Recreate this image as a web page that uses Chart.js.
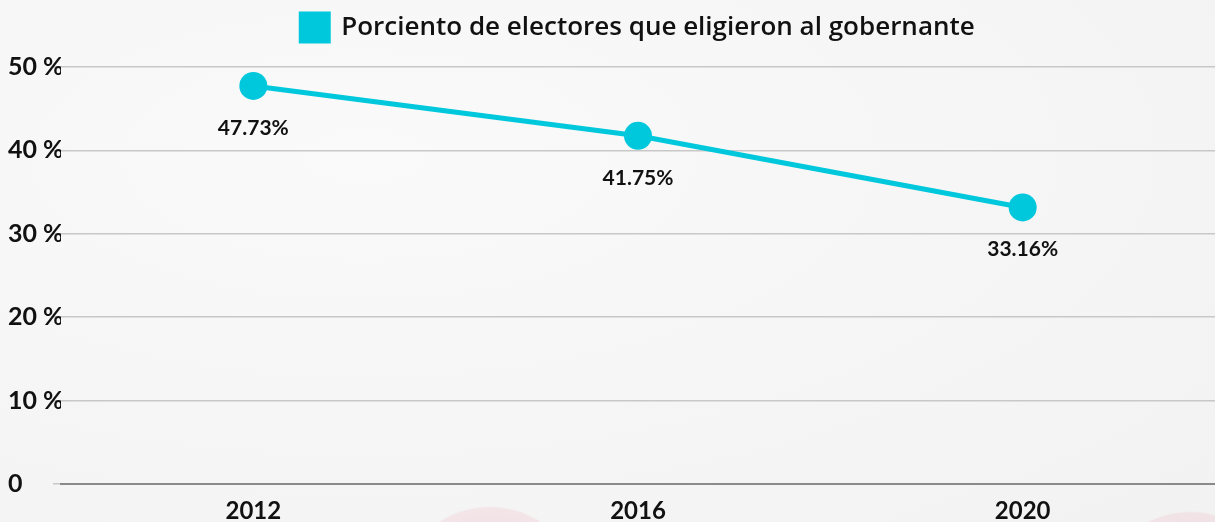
<!DOCTYPE html>
<html>
<head>
<meta charset="utf-8">
<script src="https://cdn.jsdelivr.net/npm/chart.js@4.4.1/dist/chart.umd.min.js"></script>
<style>
    html, body {
        margin: 0;
        padding: 0;
        width: 1215px;
        height: 522px;
        overflow: hidden;
    }
    body {
        background:
            radial-gradient(circle at 490px 600px, rgba(225, 90, 120, 0.18) 0, rgba(225, 90, 120, 0.10) 92px, rgba(225, 90, 120, 0) 94px),
            radial-gradient(circle at 1190px 605px, rgba(225, 90, 120, 0.18) 0, rgba(225, 90, 120, 0.10) 92px, rgba(225, 90, 120, 0) 94px),
            radial-gradient(ellipse at 30% 30%, #fafafa 0, #f5f5f5 60%, #f2f2f2 100%);
    }
    #wrap {
        position: relative;
        width: 1215px;
        height: 522px;
    }
</style>
</head>
<body>
<div id="wrap"><canvas id="myChart"></canvas></div>
<script>
const years = ['2012', '2016', '2020'];
const porcentajes = [47.73, 41.75, 33.16];
const serieNombre = 'Porciento de electores que eligieron al gobernante';
const yTicks = [0, 10, 20, 30, 40, 50];

const turquesa = '#00c8dc';
const fuente = 'Lato, "Open Sans", sans-serif';
const fuenteLeyenda = '"Open Sans", Lato, sans-serif';

// etiquetas de valor debajo de cada punto
const etiquetasPlugin = {
    id: 'etiquetas',
    afterInit(chart) {
        // mas espacio entre la leyenda y el area del grafico
        const fit = chart.legend.fit;
        chart.legend.fit = function () {
            fit.call(this);
            this.height += 16;
        };
    },
    afterDatasetsDraw(chart) {
        const ctx = chart.ctx;
        const meta = chart.getDatasetMeta(0);
        ctx.save();
        ctx.font = `bold 21px ${fuente}`;
        ctx.fillStyle = '#111';
        ctx.textAlign = 'center';
        ctx.textBaseline = 'middle';
        meta.data.forEach((pt, i) => {
            const value = chart.data.datasets[0].data[i];
            ctx.fillText(`${value.toFixed(2)}%`, pt.x, pt.y + 42);
        });
        ctx.restore();
    }
};

const ctx = document.getElementById('myChart').getContext('2d');
window.myChart = new Chart(ctx, {
    type: 'line',
    data: {
        labels: years,
        datasets: [
            {
                label: serieNombre,
                data: porcentajes,
                borderColor: turquesa,
                backgroundColor: turquesa,
                borderWidth: 5,
                pointRadius: 14,
                pointHoverRadius: 14,
                pointBackgroundColor: turquesa,
                pointBorderWidth: 0,
                fill: false,
                tension: 0,
                clip: false,
            },
        ],
    },
    options: {
        responsive: true,
        maintainAspectRatio: false,
        animation: false,
        layout: {
            autoPadding: false,
            padding: { left: 8, right: 0, top: 3, bottom: 0 },
        },
        plugins: {
            legend: {
                position: 'top',
                fullSize: false,
                labels: {
                    boxWidth: 27,
                    boxHeight: 27,
                    padding: 11,
                    color: '#111',
                    font: { family: fuenteLeyenda, size: 26, weight: '600' },
                },
            },
            tooltip: { enabled: false },
        },
        scales: {
            x: {
                offset: true,
                afterFit: (scale) => { scale.height = 38; },
                grid: { display: false },
                border: { display: true, color: '#8a8a8a', width: 2 },
                ticks: {
                    color: '#111',
                    padding: 5,
                    font: { family: fuente, size: 24, weight: 'bold' },
                },
            },
            y: {
                min: 0,
                max: 50,
                afterFit: (scale) => { scale.width = 53; },
                afterBuildTicks: (scale) => { scale.ticks = yTicks.map(v => ({ value: v })); },
                border: { display: false },
                grid: {
                    color: '#c8c8c8',
                    lineWidth: 1.5,
                    tickLength: 8,
                },
                ticks: {
                    crossAlign: 'far',
                    color: '#111',
                    font: { family: fuente, size: 25, weight: 'bold' },
                    callback: (value) => value === 0 ? '0' : `${value} %`,
                },
            },
        },
    },
    plugins: [etiquetasPlugin],
});
</script>
</body>
</html>
